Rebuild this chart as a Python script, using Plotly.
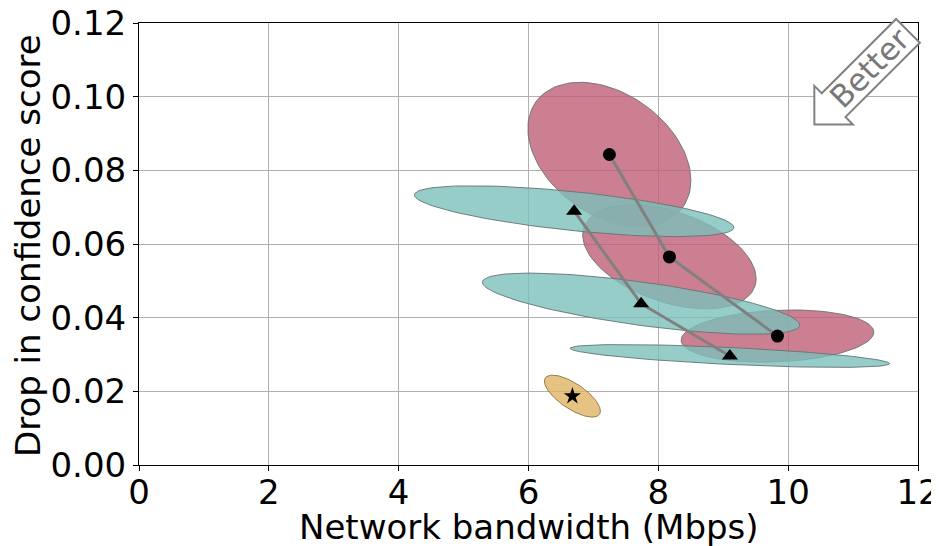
import numpy as np
import plotly.graph_objects as go

# ---- data ----
circle_x = [7.246, 8.171, 9.835]
circle_y = [0.0843, 0.0565, 0.0350]
triangle_x = [6.703, 7.735, 9.102]
triangle_y = [0.0689, 0.0438, 0.0296]
star_x = [6.676]
star_y = [0.0187]

# ellipse spreads (half-extent in x, half-extent in y, correlation)
circle_sx = [1.256, 1.336, 1.484]
circle_sy = [0.0196, 0.0141, 0.0071]
circle_rho = [-0.36, -0.42, 0.15]
triangle_sx = [2.461, 2.445, 2.461]
triangle_sy = [0.0069, 0.0083, 0.0031]
triangle_rho = [-0.64, -0.70, -0.67]
star_sx = [0.431]
star_sy = [0.0057]
star_rho = [-0.71]

x_ticks = [0, 2, 4, 6, 8, 10, 12]
y_ticks = [0.00, 0.02, 0.04, 0.06, 0.08, 0.10, 0.12]
y_tick_text = ["0.00", "0.02", "0.04", "0.06", "0.08", "0.10", "0.12"]

PINK = "rgba(190,95,118,0.8)"
TEAL = "rgba(124,192,186,0.8)"
YELLOW = "rgba(224,180,99,0.8)"
EDGE = "rgba(100,115,115,0.9)"
YEDGE = "rgba(140,110,70,0.9)"
FONT = "DejaVu Sans"


def ellipse(cx, cy, sx, sy, rho, n=120):
    t = np.linspace(0, 2 * np.pi, n)
    ex = cx + sx * np.cos(t)
    ey = cy + sy * (rho * np.cos(t) + np.sqrt(1 - rho ** 2) * np.sin(t))
    return ex, ey


fig = go.Figure()

def add_ellipses(xs, ys, sxs, sys, rhos, color, edge):
    for cx, cy, sx, sy, r in zip(xs, ys, sxs, sys, rhos):
        ex, ey = ellipse(cx, cy, sx, sy, r)
        fig.add_trace(go.Scatter(x=ex, y=ey, mode="lines", fill="toself",
                                 fillcolor=color, line=dict(color=edge, width=1),
                                 hoverinfo="skip", showlegend=False))

add_ellipses(circle_x, circle_y, circle_sx, circle_sy, circle_rho, PINK, EDGE)
add_ellipses(triangle_x, triangle_y, triangle_sx, triangle_sy, triangle_rho, TEAL, EDGE)
add_ellipses(star_x, star_y, star_sx, star_sy, star_rho, YELLOW, YEDGE)

fig.add_trace(go.Scatter(x=circle_x, y=circle_y, mode="lines+markers",
                         line=dict(color="rgb(128,128,128)", width=3),
                         marker=dict(symbol="circle", size=13, color="black"),
                         showlegend=False))
fig.add_trace(go.Scatter(x=triangle_x, y=triangle_y, mode="lines+markers",
                         line=dict(color="rgb(128,128,128)", width=3),
                         marker=dict(symbol="triangle-up", size=14, color="black"),
                         showlegend=False))
fig.add_trace(go.Scatter(x=star_x, y=star_y, mode="markers",
                         marker=dict(symbol="star", size=13, color="black"),
                         showlegend=False))

# ---- layout geometry (page has an 8px body margin) ----
OFF = 8
W, H = 939 - OFF, 546 - OFF
PL, PR, PT, PB = 139, 918, 23, 465          # plot area in page pixels
L, T = PL - OFF, PT - OFF
R, B = W - (PR - OFF), H - (PB - OFF)
pw, ph = PR - PL, PB - PT

def to_paper(px, py):
    return (px - PL) / pw, (PB - py) / ph

# ---- "Better" arrow decoration ----
d = np.array([-1.0, 1.0]) / np.sqrt(2)   # towards tip (pixel space, y down)
nvec = np.array([1.0, 1.0]) / np.sqrt(2)
tail_c = np.array([908.0, 30.8])
body_len, head_len, body_hw, head_hw = 105.2, 27.2, 16.8, 27.3
base = tail_c + d * body_len
pts = [tail_c - nvec * body_hw, tail_c + nvec * body_hw,
       base + nvec * body_hw, base + nvec * head_hw, base + d * head_len,
       base - nvec * head_hw, base - nvec * body_hw]
path = ""
for i, p in enumerate(pts):
    xp, yp = to_paper(*p)
    path += ("M" if i == 0 else "L") + f"{xp:.5f},{yp:.5f} "
path += "Z"
fig.add_shape(type="path", path=path, xref="paper", yref="paper",
              line=dict(color="rgb(130,130,130)", width=2), fillcolor="white",
              layer="above")
cxp, cyp = to_paper(869.5, 68.0)
fig.add_annotation(x=cxp, y=cyp, xref="paper", yref="paper", text="Better",
                   showarrow=False, textangle=-45,
                   font=dict(family=FONT, size=31, color="rgb(120,120,120)"),
                   xanchor="center", yanchor="middle")

# ---- axis titles ----
xtx, xty = to_paper(528.5, 527)
fig.add_annotation(x=xtx, y=xty, xref="paper", yref="paper",
                   text="Network bandwidth (Mbps)", showarrow=False,
                   font=dict(family=FONT, size=34, color="black"),
                   xanchor="center", yanchor="middle")
ytx, yty = to_paper(28, 246)
fig.add_annotation(x=ytx, y=yty, xref="paper", yref="paper",
                   text="Drop in confidence score", showarrow=False, textangle=-90,
                   font=dict(family=FONT, size=34, color="black"),
                   xanchor="center", yanchor="middle")

axis_common = dict(showline=True, linecolor="black", linewidth=1, mirror=True,
                   ticks="outside", ticklen=5, tickcolor="black",
                   showgrid=True, gridcolor="#b0b0b0", gridwidth=1,
                   zeroline=False, automargin=False, ticklabeloverflow="allow",
                   tickfont=dict(family=FONT, size=34, color="black"))

fig.update_layout(
    width=W, height=H,
    margin=dict(l=L, r=R, t=T, b=B),
    paper_bgcolor="white", plot_bgcolor="white",
    font=dict(family=FONT, color="black"),
    xaxis=dict(range=[0, 12], tickvals=x_ticks, ticktext=[str(v) for v in x_ticks],
               ticklabelstandoff=-8, **axis_common),
    yaxis=dict(range=[0, 0.12], tickvals=y_ticks, ticktext=y_tick_text,
               **axis_common),
)

fig.write_html("out.html")
